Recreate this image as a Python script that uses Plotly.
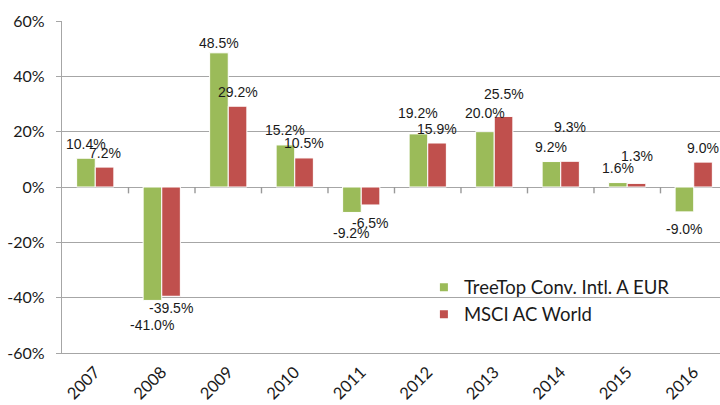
import plotly.graph_objects as go

years = [2007, 2008, 2009, 2010, 2011, 2012, 2013, 2014, 2015, 2016]
treetop = [10.4, -41.0, 48.5, 15.2, -9.2, 19.2, 20.0, 9.2, 1.6, -9.0]
msci = [7.2, -39.5, 29.2, 10.5, -6.5, 15.9, 25.5, 9.3, 1.3, 9.0]
series_names = ["TreeTop Conv. Intl. A EUR", "MSCI AC World"]
y_ticks = [-60, -40, -20, 0, 20, 40, 60]

# label offsets (px, outward from bar end), style only
off_green = [14, 25, 10, 15, 21, 21, 19, 15, 15, 17]
off_red = [14, 12, 14, 15, 18, 14, 22, 34, 27, 14]

GREEN = "#9BBB59"
RED = "#C0504D"
GRID = "#A6A6A6"
XR = [years[0] - 0.5, years[-1] + 0.395]

fig = go.Figure()
for name, vals, col in [(series_names[0], treetop, GREEN), (series_names[1], msci, RED)]:
    fig.add_trace(go.Bar(x=years, y=vals, name=name, marker=dict(color=col, line=dict(color="white", width=1)),
                         showlegend=False, hoverinfo="skip"))
    fig.add_trace(go.Scatter(x=[None], y=[None], mode="markers", name=name,
                             marker=dict(symbol="square", size=8, color=col)))

# category boundary tick marks hanging below the zero line (drawn as one-sided error bars)
bounds = [yr + 0.5 for yr in years]
fig.add_trace(go.Scatter(x=bounds, y=[0] * len(bounds), mode="markers",
                         marker=dict(size=1, color="rgba(0,0,0,0)"),
                         error_y=dict(type="data", symmetric=False, array=[0] * len(bounds),
                                      arrayminus=[2.3] * len(bounds), width=0,
                                      color="#999999", thickness=1.4),
                         showlegend=False, hoverinfo="skip"))

ann = []
for vals, offs, xs in [(treetop, off_green, -9.5), (msci, off_red, 9.5)]:
    for yr, v, o in zip(years, vals, offs):
        ann.append(dict(x=yr, y=v, xref="x", yref="y", text=f"{v:.1f}%", showarrow=False,
                        xshift=xs, yshift=o if v >= 0 else -o, yanchor="middle",
                        font=dict(family="Liberation Sans", size=14, color="#1a1a1a")))

fig.update_layout(
    width=720, height=405,
    margin=dict(l=62, r=0, t=21, b=52),
    paper_bgcolor="white", plot_bgcolor="white",
    barmode="group", bargap=0.44, bargroupgap=0,
    annotations=ann,
    legend=dict(x=0.55, y=0.254, xanchor="left", yanchor="top", bgcolor="rgba(0,0,0,0)",
                font=dict(family="Lato", size=18.5, color="#1a1a1a"), itemwidth=30, tracegroupgap=7),
    xaxis=dict(range=XR, tickvals=years, ticktext=[str(y) for y in years], automargin=False,
               tickangle=-45, showgrid=False, zeroline=False, ticks="", ticklabelstandoff=2,
               tickfont=dict(family="Lato", size=16.5, color="#1a1a1a"),
               showline=True, linecolor=GRID, linewidth=1.3),
    yaxis=dict(range=[-60, 60], tickvals=y_ticks, ticktext=[f"{v}%" for v in y_ticks], showgrid=True,
               gridcolor=GRID, gridwidth=1.3, zeroline=True, zerolinecolor=GRID, zerolinewidth=1.3,
               showline=True, linecolor=GRID, linewidth=1.3, ticks="outside", ticklen=5,
               tickcolor=GRID, tickwidth=1.3, ticklabelstandoff=8, automargin=False,
               tickfont=dict(family="Lato", size=16, color="#1a1a1a")),
)

fig.write_html("out.html", config={"displayModeBar": False},
               post_script="document.body.style.margin='0';")
